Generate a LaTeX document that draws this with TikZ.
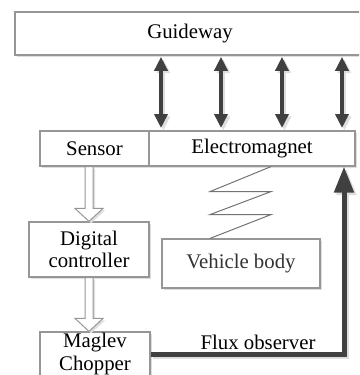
\documentclass[tikz,border=0pt]{standalone}
\usepackage{fontspec}
\setmainfont{Liberation Serif}
\usetikzlibrary{arrows.meta,shadows,positioning,calc}
\definecolor{edge}{RGB}{150,150,150}
\definecolor{dark}{RGB}{64,64,64}
\definecolor{shadowgray}{RGB}{222,222,222}

\tikzset{
  blk/.style={draw=edge,line width=0.6pt,fill=white,inner sep=0pt,align=center,
    font=\fontsize{10.4}{11.2}\selectfont,
    drop shadow={shadow xshift=1.2pt,shadow yshift=-1.2pt,fill=shadowgray,opacity=1}},
  lbl/.style={inner sep=0pt,font=\fontsize{10.4}{11.2}\selectfont},
  dbl/.style={line width=2pt,shorten <=0.6pt,shorten >=1.2pt,
    {Triangle[length=7pt,width=6.5pt]}-{Triangle[length=7pt,width=6.5pt]}},
  hollow/.style={draw=edge,line width=0.5pt,fill=white,
    drop shadow={shadow xshift=1pt,shadow yshift=-1pt,fill=shadowgray,opacity=1}},
  spring/.style={draw=black!55,line width=0.5pt},
  flux/.style={line width=2.5pt,-{Triangle[length=13pt,width=9.5pt]}}
}

% open arrow pointing down, from #1 to #2
\newcommand{\hollowarrow}[2]{%
  \draw[hollow] let \p1=(#1), \p2=(#2) in
    (\x2-2pt,\y1) -- (\x2-2pt,\y2+6.5pt) -- (\x2-7pt,\y2+6.5pt) -- (\x2,\y2)
    -- (\x2+7pt,\y2+6.5pt) -- (\x2+2pt,\y2+6.5pt) -- (\x2+2pt,\y1) -- cycle;}

\begin{document}
\begin{tikzpicture}[x=0.5pt,y=-0.5pt]
  \useasboundingbox (0,0) rectangle (359,375);
  \clip (0,0) rectangle (359,375);

  % blocks
  \node[blk,minimum width=175pt,minimum height=21.5pt] (guide) at (190,33.5) {Guideway};
  \node[blk,minimum width=54.5pt,minimum height=17.5pt] (sensor) at (94.5,148.5) {Sensor};
  \node[blk,minimum width=103pt,minimum height=17.5pt] (magnet) at (252,148.5) {Electromagnet};
  \node[blk,minimum width=60pt,minimum height=27.5pt] (digital) at (89,249.5) {Digital\\controller};
  \node[blk,minimum width=79pt,minimum height=24.5pt,text=black!80] (vehicle) at (241,263.5) {Vehicle body};
  \node[blk,minimum width=55pt,minimum height=22pt] (chopper) at (95,354) {Maglev\\Chopper};

  % guideway <-> electromagnet
  \foreach \n/\x in {a1/161,a2/221,a3/282,a4/342}{
    \coordinate (\n) at (\x,0);
    \draw[dbl,shadowgray,transform canvas={xshift=1.2pt,yshift=-1.2pt}] (guide.south -| \n) -- (magnet.north -| \n);
    \draw[dbl,dark] (guide.south -| \n) -- (magnet.north -| \n);
  }

  % signal path
  \hollowarrow{sensor.south -| digital.north}{digital.north}
  \hollowarrow{digital.south}{chopper.north -| digital.south}

  % suspension spring
  \coordinate (sp) at (271,0);
  \coordinate (sq) at (210,0);
  \draw[spring] (magnet.south -| sp) -- ++(-61,25) -- ++(61,0) -- ++(-61,23) -- ++(61,0)
    -- (vehicle.north -| sq);

  % flux feedback
  \coordinate (fx) at (344,0);
  \draw[flux,shadowgray,transform canvas={xshift=1.2pt,yshift=-1.2pt}] (chopper.east) -| (magnet.south -| fx);
  \draw[flux,dark] (chopper.east) -| (magnet.south -| fx);
  \node[lbl] (fluxlbl) at (258,342) {Flux observer};
\end{tikzpicture}
\end{document}
